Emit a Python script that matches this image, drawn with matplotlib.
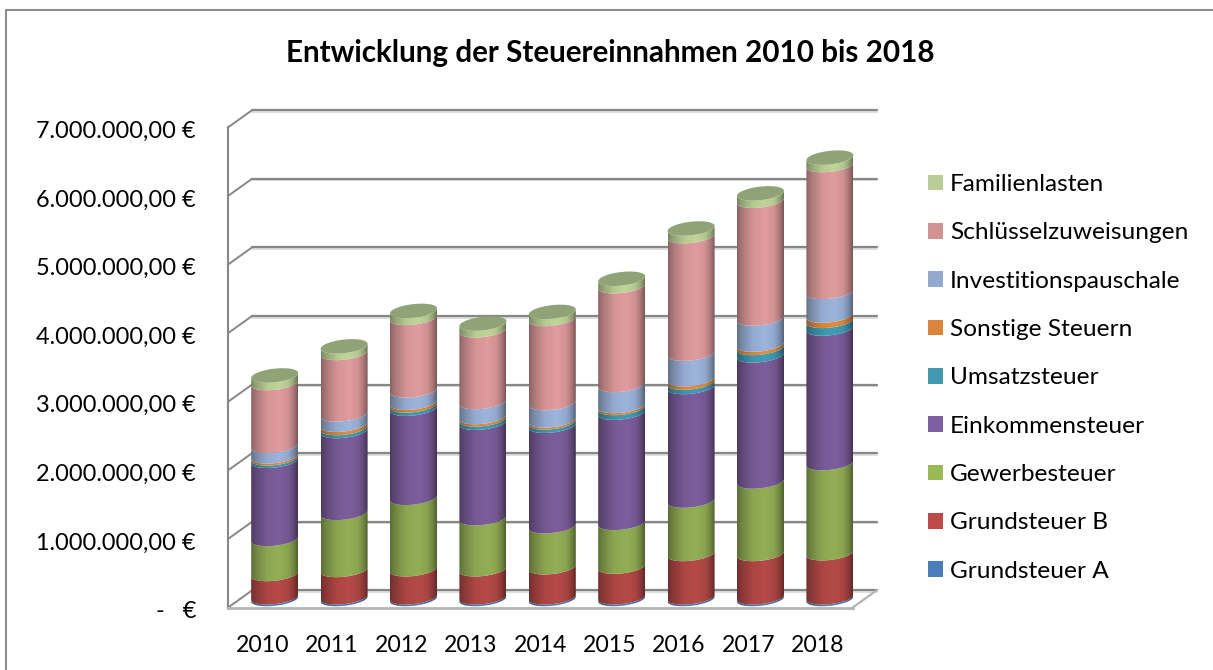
import numpy as np
import matplotlib
matplotlib.use("Agg")
import matplotlib.pyplot as plt
from matplotlib.patches import Patch, Polygon
from matplotlib.colors import to_rgb

plt.rcParams['font.family'] = ['Lato', 'DejaVu Sans']

years = ['2010', '2011', '2012', '2013', '2014', '2015', '2016', '2017', '2018']
grundsteuer_a = [25000] * 9
grundsteuer_b = [340000, 399000, 409000, 409000, 438000, 447000, 632000, 632000, 643000]
gewerbesteuer = [511000, 832000, 1041000, 745000, 599000, 638000, 778000, 1056000, 1314000]
einkommensteuer = [1139000, 1193000, 1299000, 1391000, 1464000, 1606000, 1656000, 1839000, 1961000]
umsatzsteuer = [36000, 44000, 48000, 48000, 48000, 69000, 63000, 108000, 112000]
sonstige = [29000, 48000, 39000, 35000, 29000, 29000, 48000, 48000, 77000]
investition = [153000, 150000, 180000, 219000, 254000, 307000, 375000, 380000, 346000]
schluessel = [915000, 896000, 1057000, 1045000, 1226000, 1439000, 1712000, 1718000, 1848000]
familien = [111000, 96000, 102000, 98000, 102000, 108000, 112000, 107000, 108000]

series_names = ['Grundsteuer A', 'Grundsteuer B', 'Gewerbesteuer', 'Einkommensteuer', 'Umsatzsteuer',
                'Sonstige Steuern', 'Investitionspauschale', 'Schlüsselzuweisungen', 'Familienlasten']
series_values = [grundsteuer_a, grundsteuer_b, gewerbesteuer, einkommensteuer, umsatzsteuer,
                 sonstige, investition, schluessel, familien]
bar_colors = ['#4A7EBB', '#B54A47', '#93AF55', '#7C5E9C', '#3F9DB6', '#E08D3E', '#9DB4DC', '#E09C9E', '#C0D59A']
legend_colors = ['#4A7EBB', '#BE4B48', '#98B954', '#7D60A0', '#4198AF', '#DB843D', '#93A9CF', '#D19392', '#B9CD96']
top_face = '#8FA377'
y_ticks = [0, 1000000, 2000000, 3000000, 4000000, 5000000, 6000000, 7000000]
y_tick_labels = ['-   €', '1.000.000,00 €', '2.000.000,00 €', '3.000.000,00 €', '4.000.000,00 €',
                 '5.000.000,00 €', '6.000.000,00 €', '7.000.000,00 €']
title = 'Entwicklung der Steuereinnahmen 2010 bis 2018'

W, H = 1213, 670
fig = plt.figure(figsize=(W / 100, H / 100), dpi=100, facecolor='white')
ax = fig.add_axes([0, 0, 1, 1])

# pixel geometry of the mid-depth plane: category i -> x, euros -> y
PX_CAT = 69.4
PX_EUR = 68.6e-6
X0 = 274.7
Y0 = 599.0
ax.set_xlim((0 - X0) / PX_CAT, (W - X0) / PX_CAT)
ax.set_ylim((Y0 - H) / PX_EUR, Y0 / PX_EUR)
ax.axis('off')

dx = 12 / PX_CAT          # half depth in category units
dy = 8.6 / PX_EUR         # half depth in euro units
a = 23.5 / PX_CAT         # cylinder half width
b = 6.8 / PX_EUR          # ellipse half height
tilt = 2.5 / PX_EUR       # perspective tilt of the ellipses
n = len(years)
left, right = -0.5, n - 0.5

GRID = '#878787'
for v, lab in zip(y_ticks, y_tick_labels):
    # drop shadow, wall line, side-wall line
    ax.plot([left + dx, right + dx], [v + dy - 1.6 / PX_EUR] * 2, color='#d4d4d4', lw=1.1, zorder=1)
    ax.plot([left + dx, right + dx], [v + dy] * 2, color=GRID, lw=1.6, zorder=2, solid_capstyle='round')
    ax.plot([left - dx, left + dx], [v - dy, v + dy], color=GRID, lw=1.4, zorder=2)
    ax.text(left - dx - 32 / PX_CAT, v - dy - 4 / PX_EUR, lab, ha='right',
            va='center', fontsize=16.9, color='black')
ax.plot([left - dx, left - dx], [-dy, y_ticks[-1] - dy], color=GRID, lw=1.5, zorder=2)
ax.plot([left - dx, right - dx], [-dy, -dy], color='#b4b4b4', lw=2.0, zorder=2)
ax.plot([right - dx, right + dx], [-dy, dy], color='#b4b4b4', lw=1.6, zorder=2)

stops_x = [0.0, 0.05, 0.15, 0.35, 0.6, 0.8, 0.92, 1.0]
stops_f = [0.62, 0.70, 0.80, 0.95, 1.0, 0.93, 0.75, 0.55]
shade = np.interp(np.linspace(0, 1, 94), stops_x, stops_f)

t = np.linspace(np.pi, 0, 60)


def front_arc(cx, level):
    xs = cx + a * np.cos(t)
    ys = level + tilt * np.cos(t) - b * np.sin(t)
    return xs, ys


z = 5.0
for i in range(n):
    bottom = 0.0
    for vals, col in zip(series_values, bar_colors):
        top = bottom + vals[i]
        x1, y1 = front_arc(i, bottom)
        x2, y2 = front_arc(i, top)
        xy = np.column_stack([np.r_[x1, x2[::-1]], np.r_[y1, y2[::-1]]])
        img = np.clip(np.array(to_rgb(col))[None, None, :] * shade[None, :, None], 0, 1)
        extent = (i - a, i + a, bottom - b - tilt, top + b + tilt)
        im = ax.imshow(img, extent=extent, aspect='auto', interpolation='bilinear', zorder=z)
        poly = Polygon(xy, closed=True, transform=ax.transData, facecolor='none', edgecolor='none')
        ax.add_patch(poly)
        im.set_clip_path(poly)
        z += 0.01
        bottom = top
    # top face
    tt = np.linspace(0, 2 * np.pi, 120)
    ax.fill(i + a * np.cos(tt), bottom + tilt * np.cos(tt) + b * np.sin(tt),
            color=top_face, lw=0, zorder=z)
    z += 0.01

ax.set_xlim((0 - X0) / PX_CAT, (W - X0) / PX_CAT)
ax.set_ylim((Y0 - H) / PX_EUR, Y0 / PX_EUR)

for i, yr in enumerate(years):
    ax.text(i - dx, (Y0 - 645) / PX_EUR, yr, ha='center', va='center', fontsize=16.6, color='black')

# chart frame
fig.add_artist(plt.Line2D([6 / W, 6 / W, 1], [0, 1 - 10 / H, 1 - 10 / H],
                          transform=fig.transFigure, color='#8c8c8c', lw=1.5))

ax.text(610.5 / PX_CAT - X0 / PX_CAT, (Y0 - 53) / PX_EUR, title, ha='center', va='center',
        fontsize=21.3, fontweight='bold', color='black')

handles = [Patch(facecolor=c, edgecolor='none', label=s) for c, s in zip(legend_colors, series_names)][::-1]
fs = 17.6
fs_px = fs * 100 / 72
leg = ax.legend(handles=handles, loc='upper left', bbox_to_anchor=(928 / W, 1 - 174 / H),
                bbox_transform=fig.transFigure, frameon=False, fontsize=fs,
                handlelength=15 / fs_px, handleheight=15 / fs_px, handletextpad=7 / fs_px,
                labelspacing=(49.65 - 0.913 * fs_px) / fs_px, borderpad=0, borderaxespad=0)
leg.set_zorder(20)

fig.savefig('out.png', dpi=100)
